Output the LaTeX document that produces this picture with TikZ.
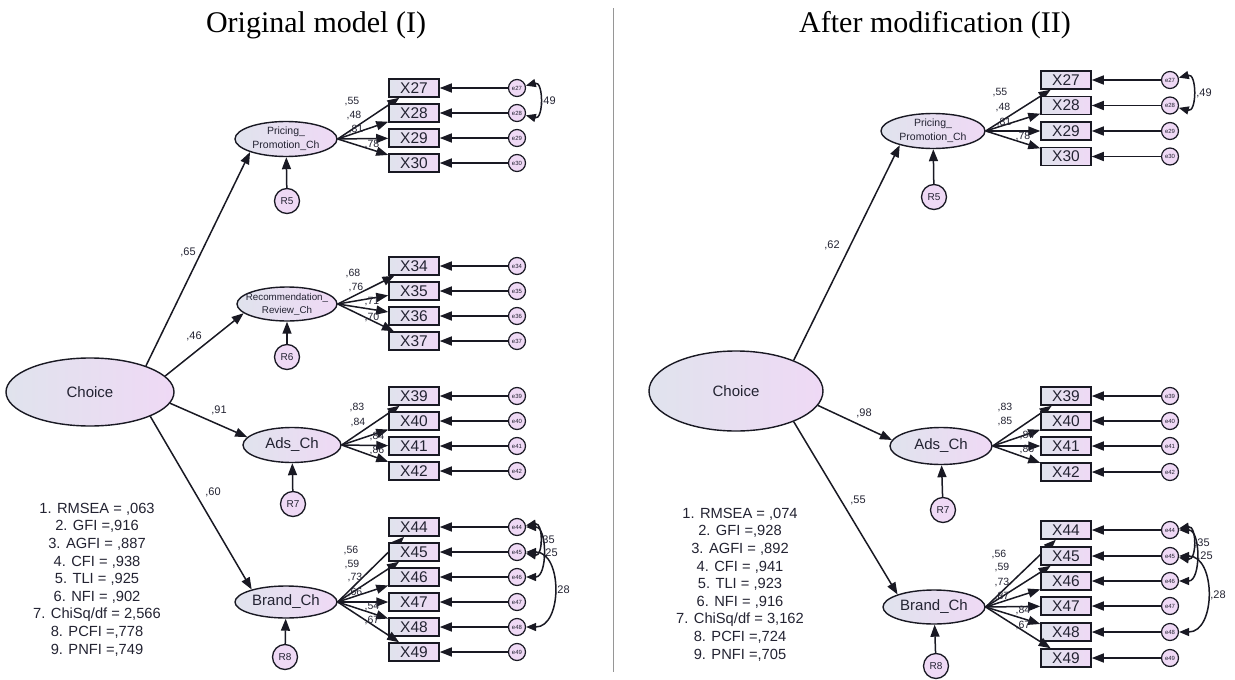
\documentclass[tikz,border=0pt]{standalone}
\usepackage{fontspec}
\setmainfont{Liberation Sans}
\newfontfamily\titlefont{Liberation Serif}
\usetikzlibrary{shapes.geometric,arrows.meta}
\definecolor{ink}{RGB}{25,25,35}
\definecolor{txt}{RGB}{35,35,50}
\definecolor{lb}{RGB}{224,227,237}
\definecolor{lp}{RGB}{239,217,245}
\definecolor{divc}{RGB}{150,150,150}
\newcommand\myfs[1]{\fontsize{#1}{#1}\selectfont}
\begin{document}
\begin{tikzpicture}[x=1pt,y=-1pt,
 lat/.style={ellipse,draw=ink,line width=1.4pt,left color=lb,right color=lp,inner sep=0pt,text=txt,font=\myfs{15}},
 obs/.style={rectangle,draw=ink,line width=1.5pt,left color=lb,right color=lp,minimum width=50pt,minimum height=18pt,inner sep=0pt,text=txt,font=\myfs{15.5}},
 res/.style={circle,draw=ink,line width=1.3pt,fill=lp,minimum size=25pt,inner sep=0pt,text=txt,font=\myfs{10}},
 err/.style={circle,draw=ink,line width=1.2pt,fill=lp,minimum size=17pt,inner sep=0pt,text=txt,font=\myfs{6}},
 arr/.style={draw=ink,line width=1.5pt,-{Triangle[length=12pt,width=9pt]}},
 cov/.style={draw=ink,line width=1.5pt,{Triangle[length=10pt,width=8pt]}-{Triangle[length=10pt,width=8pt]}},
 lab/.style={text=txt,inner sep=0pt,font=\myfs{10.5}},
 slab/.style={text=txt,inner sep=0pt,font=\myfs{11}},
 stats/.style={text=txt,align=center,inner sep=0pt,font=\fontsize{14.7}{17.6}\selectfont},
 ttl/.style={text=black,inner sep=0pt,font=\titlefont\fontsize{30}{30}\selectfont},
]
\fill[white] (0,0) rectangle (1235,680);
\path[use as bounding box] (0,0) rectangle (1235,680);

% titles and divider
\node[ttl] (t1) at (316,25) {Original model (I)};
\node[ttl] (t2) at (935,25) {After modification (II)};
\coordinate (dtop) at (613,8);
\coordinate (dbot) at (613,672);
\draw[divc,line width=0.8pt] (dtop) -- (dbot);

% ================= LEFT =================
\node[lat,minimum width=168pt,minimum height=68pt] (chL) at (90,392) {Choice};
\node[lat,minimum width=102pt,minimum height=35pt,label={[text=txt,align=center,font=\fontsize{10.5}{14}\selectfont]center:Pricing\_\\Promotion\_Ch}] (ppL) at (286,139) {};
\node[lat,minimum width=100pt,minimum height=34pt,label={[text=txt,align=center,font=\fontsize{9.8}{13}\selectfont]center:Recommendation\_\\Review\_Ch}] (recL) at (287,304) {};
\node[lat,minimum width=98pt,minimum height=35pt] (adsL) at (292,445) {Ads\_Ch};
\node[lat,minimum width=102pt,minimum height=32pt] (brL) at (286,602) {Brand\_Ch};
\node[res] (r5L) at (287,201) {R5};
\node[res] (r6L) at (287,357) {R6};
\node[res] (r7L) at (293,504) {R7};
\node[res] (r8L) at (285,657) {R8};
\draw[arr] (r5L) -- (ppL);
\draw[arr] (r6L) -- (recL);
\draw[arr] (r7L) -- (adsL);
\draw[arr] (r8L) -- (brL);

\foreach \n/\y in {27/88,28/113,29/138,30/163}{
  \node[obs] (Lx\n) at (414,\y) {X\n};
  \node[err] (Le\n) at (517,\y) {e\n};
  \draw[arr] (Le\n) -- (Lx\n);
  \draw[arr] (ppL.east) -- (Lx\n);
}
\foreach \n/\y in {34/266,35/291,36/316,37/341}{
  \node[obs] (Lx\n) at (414,\y) {X\n};
  \node[err] (Le\n) at (517,\y) {e\n};
  \draw[arr] (Le\n) -- (Lx\n);
  \draw[arr] (recL.east) -- (Lx\n);
}
\foreach \n/\y in {39/396,40/421,41/446,42/471}{
  \node[obs] (Lx\n) at (414,\y) {X\n};
  \node[err] (Le\n) at (517,\y) {e\n};
  \draw[arr] (Le\n) -- (Lx\n);
  \draw[arr] (adsL.east) -- (Lx\n);
}
\foreach \n/\y in {44/527,45/552,46/577,47/602,48/627,49/652}{
  \node[obs] (Lx\n) at (414,\y) {X\n};
  \node[err] (Le\n) at (517,\y) {e\n};
  \draw[arr] (Le\n) -- (Lx\n);
  \draw[arr] (brL.east) -- (Lx\n);
}
% structural paths
\draw[arr] (chL.25) -- (ppL.200);
\draw[arr] (chL.12) -- (recL.192);
\draw[arr] (chL.352) -- (adsL.170);
\draw[arr] (chL.338) -- (brL.160);
\node[slab] (lp1) at (188,252) {,65};
\node[slab] (lp2) at (194,336) {,46};
\node[slab] (lp3) at (219,410) {,91};
\node[slab] (lp4) at (213,492) {,60};
% loadings
\node[lab] at (352,102) {,55};
\node[lab] at (354,116) {,48};
\node[lab] at (356,130) {,81};
\node[lab] at (372,145) {,78};
\node[lab] at (353,274) {,68};
\node[lab] at (356,288) {,76};
\node[lab] at (372,302) {,71};
\node[lab] at (372,318) {,70};
\node[lab] at (357,408) {,83};
\node[lab] at (358,423) {,84};
\node[lab] at (377,437) {,84};
\node[lab] at (377,451) {,86};
\node[lab] at (351,551) {,56};
\node[lab] at (352,565) {,59};
\node[lab] at (355,578) {,73};
\node[lab] at (355,592) {,66};
\node[lab] at (372,607) {,54};
\node[lab] at (372,620) {,67};
% covariances
\draw[cov] (Le27) to[out=15,in=-15,looseness=1.6] (Le28);
\node[slab] at (548,101) {,49};
\draw[cov] (Le44) to[out=10,in=-10,looseness=1.6] (Le45);
\draw[cov] (Le44) to[out=0,in=0,looseness=1.1] (Le46);
\draw[cov] (Le45) to[out=0,in=0,looseness=1.25] (Le48);
\node[slab] at (547,540) {,35};
\node[slab] at (550,553) {,25};
\node[slab] at (562,590) {,28};
% stats
\node[stats] (stL) at (97,579.5) {1. RMSEA = ,063\\2. GFI =,916\\3. AGFI = ,887\\4. CFI = ,938\\5. TLI = ,925\\6. NFI = ,902\\7. ChiSq/df = 2,566\\8. PCFI =,778\\9. PNFI =,749};

% ================= RIGHT =================
\node[lat,minimum width=174pt,minimum height=80pt] (chR) at (736,391) {Choice};
\node[lat,minimum width=104pt,minimum height=35pt,label={[text=txt,align=center,font=\fontsize{10.5}{14}\selectfont]center:Pricing\_\\Promotion\_Ch}] (ppR) at (933,131) {};
\node[lat,minimum width=102pt,minimum height=37pt] (adsR) at (941,446) {Ads\_Ch};
\node[lat,minimum width=102pt,minimum height=34pt] (brR) at (934,607) {Brand\_Ch};
\node[res] (r5R) at (934,197) {R5};
\node[res] (r7R) at (943,510) {R7};
\node[res] (r8R) at (936,666) {R8};
\draw[arr] (r5R) -- (ppR);
\draw[arr] (r7R) -- (adsR);
\draw[arr] (r8R) -- (brR);

\foreach \n/\y in {27/80,28/105.5,29/131,30/156.5}{
  \node[obs] (Rx\n) at (1066,\y) {X\n};
  \node[err] (Re\n) at (1170,\y) {e\n};
  \draw[arr] (Re\n) -- (Rx\n);
  \draw[arr] (ppR.east) -- (Rx\n);
}
\foreach \n/\y in {39/396,40/421,41/446,42/472}{
  \node[obs] (Rx\n) at (1066,\y) {X\n};
  \node[err] (Re\n) at (1170,\y) {e\n};
  \draw[arr] (Re\n) -- (Rx\n);
  \draw[arr] (adsR.east) -- (Rx\n);
}
\foreach \n/\y in {44/530,45/556,46/581,47/606,48/632,49/658}{
  \node[obs] (Rx\n) at (1066,\y) {X\n};
  \node[err] (Re\n) at (1170,\y) {e\n};
  \draw[arr] (Re\n) -- (Rx\n);
  \draw[arr] (brR.east) -- (Rx\n);
}
\draw[arr] (chR.28) -- (ppR.203);
\draw[arr] (chR.350) -- (adsR.173);
\draw[arr] (chR.332) -- (brR.161);
\node[slab] (rp1) at (832,245) {,62};
\node[slab] (rp2) at (864,413) {,98};
\node[slab] (rp3) at (858,500) {,55};
\node[lab] at (1000,93) {,55};
\node[lab] at (1003,108) {,48};
\node[lab] at (1004,123) {,81};
\node[lab] at (1023,137) {,78};
\node[lab] at (1005,408) {,83};
\node[lab] at (1005,422) {,85};
\node[lab] at (1027,436) {,84};
\node[lab] at (1027,450) {,86};
\node[lab] at (999,555) {,56};
\node[lab] at (1002,568) {,59};
\node[lab] at (1002,583) {,73};
\node[lab] at (1002,597) {,87};
\node[lab] at (1023,611) {,84};
\node[lab] at (1023,626) {,67};
\draw[cov] (Re27) to[out=15,in=-15,looseness=1.6] (Re28);
\node[slab] at (1204,93) {,49};
\draw[cov] (Re44) to[out=10,in=-10,looseness=1.6] (Re45);
\draw[cov] (Re44) to[out=0,in=0,looseness=1.1] (Re46);
\draw[cov] (Re45) to[out=0,in=0,looseness=1.25] (Re48);
\node[slab] at (1202,543) {,35};
\node[slab] at (1205,556) {,25};
\node[slab] at (1218,595) {,28};
\node[stats] (stR) at (740,584.5) {1. RMSEA = ,074\\2. GFI =,928\\3. AGFI = ,892\\4. CFI = ,941\\5. TLI = ,923\\6. NFI = ,916\\7. ChiSq/df = 3,162\\8. PCFI =,724\\9. PNFI =,705};
\end{tikzpicture}
\end{document}
